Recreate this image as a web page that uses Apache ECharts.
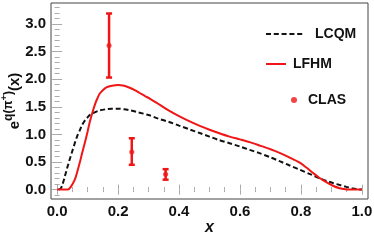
<!DOCTYPE html>
<html><head><meta charset="utf-8">
<script src="https://cdn.jsdelivr.net/npm/echarts@6/dist/echarts.min.js"></script>
<style>html,body{margin:0;padding:0;background:#fff}#c{width:374px;height:245px}</style>
</head><body><div id="c"></div>
<script>
const lfhmX = [0, 0.02, 0.035, 0.045, 0.058, 0.066, 0.074, 0.082, 0.091, 0.1, 0.107, 0.115, 0.124, 0.132, 0.14, 0.15, 0.162, 0.18, 0.2, 0.22, 0.238, 0.255, 0.271, 0.29, 0.304, 0.33, 0.35, 0.37, 0.4, 0.435, 0.47, 0.5, 0.53, 0.566, 0.6, 0.632, 0.664, 0.7, 0.73, 0.76, 0.796, 0.82, 0.839, 0.86, 0.883, 0.905, 0.927, 0.945, 0.96, 1.0];
const lfhmY = [0, 0, 0, 0.05, 0.18, 0.32, 0.48, 0.66, 0.85, 1.05, 1.22, 1.38, 1.54, 1.65, 1.74, 1.80, 1.85, 1.88, 1.895, 1.88, 1.845, 1.80, 1.75, 1.69, 1.65, 1.56, 1.49, 1.42, 1.33, 1.235, 1.15, 1.085, 1.025, 0.96, 0.91, 0.86, 0.80, 0.73, 0.665, 0.59, 0.49, 0.39, 0.305, 0.215, 0.135, 0.07, 0.025, 0.005, 0, 0];
const lcqmX = [0.005, 0.012, 0.018, 0.025, 0.033, 0.041, 0.05, 0.058, 0.066, 0.074, 0.082, 0.091, 0.1, 0.107, 0.12, 0.14, 0.16, 0.18, 0.2, 0.22, 0.24, 0.266, 0.3, 0.33, 0.37, 0.4, 0.435, 0.47, 0.5, 0.53, 0.566, 0.6, 0.632, 0.664, 0.7, 0.73, 0.76, 0.796, 0.83, 0.861, 0.885, 0.905, 0.93, 0.949, 0.97, 0.99, 1.0];
const lcqmY = [0, 0.02, 0.1, 0.23, 0.39, 0.54, 0.70, 0.84, 0.97, 1.07, 1.17, 1.25, 1.31, 1.35, 1.39, 1.435, 1.455, 1.465, 1.465, 1.455, 1.435, 1.40, 1.35, 1.29, 1.22, 1.16, 1.09, 1.02, 0.96, 0.90, 0.84, 0.78, 0.72, 0.66, 0.585, 0.515, 0.445, 0.36, 0.28, 0.205, 0.155, 0.12, 0.08, 0.05, 0.02, 0.004, 0];
const clasX = [0.1705, 0.245, 0.356];
const clasY = [2.61, 0.68, 0.28];
const clasLo = [2.03, 0.45, 0.18];
const clasHi = [3.19, 0.93, 0.37];
const xTicks = [0, 0.2, 0.4, 0.6, 0.8, 1.0];
const xMinor = [0.05, 0.1, 0.15, 0.25, 0.3, 0.35, 0.45, 0.5, 0.55, 0.65, 0.7, 0.75, 0.85, 0.9, 0.95];
const yTicks = [0, 0.5, 1.0, 1.5, 2.0, 2.5, 3.0];
const yMinor = [-0.1, 0.1, 0.2, 0.3, 0.4, 0.6, 0.7, 0.8, 0.9, 1.1, 1.2, 1.3, 1.4, 1.6, 1.7, 1.8, 1.9, 2.1, 2.2, 2.3, 2.4, 2.6, 2.7, 2.8, 2.9, 3.1, 3.2, 3.3];

const RED = 'rgb(240,22,22)';
const FONT = 'Liberation Sans, Arial, sans-serif';
const X0 = -0.02, X1 = 1.02, Y0 = -0.17, Y1 = 3.38;

function xAx(pos, ticks, len, labels, extra) {
  return Object.assign({
    type: 'value', position: pos, min: X0, max: X1, nameMoveOverlap: false,
    axisLine: {show: false}, splitLine: {show: false},
    axisTick: {show: true, inside: true, length: len, customValues: ticks, lineStyle: {color: '#aaa', width: 1}},
    axisLabel: labels ? {customValues: ticks, formatter: v => v.toFixed(1), fontSize: 15, fontWeight: 'bold', color: '#111', margin: 5, fontFamily: FONT} : {show: false}
  }, extra || {});
}
function yAx(pos, ticks, len, labels, extra) {
  return Object.assign({
    type: 'value', position: pos, min: Y0, max: Y1, nameMoveOverlap: false,
    axisLine: {show: false}, splitLine: {show: false},
    axisTick: {show: true, inside: true, length: len, customValues: ticks, lineStyle: {color: '#aaa', width: 1}},
    axisLabel: labels ? {customValues: ticks, formatter: v => v.toFixed(1), fontSize: 15, fontWeight: 'bold', color: '#111', margin: 5, fontFamily: FONT} : {show: false}
  }, extra || {});
}
const legText = pad => ({fontSize: 14, fontWeight: 'bold', color: '#111', fontFamily: FONT, padding: [0, 0, 0, pad]});

const chart = echarts.init(document.getElementById('c'), null, {renderer: 'canvas'});
chart.setOption({
  animation: false,
  grid: {left: 51, right: 6, top: 3, bottom: 46, show: true, borderColor: '#444', borderWidth: 1,
    backgroundColor: 'transparent', containLabel: false, outerBoundsMode: 'none'},
  xAxis: [
    xAx('bottom', xTicks, 5, true, {name: 'x', nameLocation: 'middle', nameGap: 21,
      nameTextStyle: {fontStyle: 'italic', fontWeight: 'bold', fontSize: 16, color: '#111', fontFamily: FONT}}),
    xAx('bottom', xMinor, 2.5, false),
    xAx('top', xTicks, 5, false),
    xAx('top', xMinor, 2.5, false)
  ],
  yAxis: [
    yAx('left', yTicks, 5, true, {
      name: '{e|e}{s|q(π}{ss|+}{s|)}{e|(x)}', nameLocation: 'middle', nameRotate: 90, nameGap: 29,
      nameTextStyle: {fontFamily: FONT, color: '#111', rich: {
        e: {fontSize: 15, fontWeight: 'bold', fontFamily: FONT, color: '#111', padding: [7, 0, 0, 0], verticalAlign: 'top'},
        s: {fontSize: 12, fontWeight: 'bold', fontFamily: FONT, color: '#111', padding: [3, 0, 0, 0], verticalAlign: 'top'},
        ss: {fontSize: 9, fontWeight: 'bold', fontFamily: FONT, color: '#111', verticalAlign: 'top'}
      }}}),
    yAx('left', yMinor, 2.5, false),
    yAx('right', yTicks, 5, false),
    yAx('right', yMinor, 2.5, false)
  ],
  legend: [
    {data: ['LCQM'], left: 260, top: 22, itemWidth: 37, itemHeight: 14, selectedMode: false,
      itemStyle: {opacity: 0}, textStyle: legText(7)},
    {data: ['LFHM'], left: 260, top: 52, itemWidth: 20, itemHeight: 14, selectedMode: false,
      itemStyle: {opacity: 0}, textStyle: legText(2)},
    {data: ['CLAS'], left: 286, top: 88, itemWidth: 6, itemHeight: 6, selectedMode: false, icon: 'circle',
      textStyle: legText(6)}
  ],
  series: [
    {name: 'LCQM', type: 'line', xAxisIndex: 0, yAxisIndex: 0, showSymbol: false, symbol: 'none', smooth: 0.3,
      data: lcqmX.map((x, i) => [x, lcqmY[i]]),
      lineStyle: {color: '#111', width: 2, type: [5, 2.8]}, itemStyle: {color: '#111'}},
    {name: 'LFHM', type: 'line', xAxisIndex: 0, yAxisIndex: 0, showSymbol: false, symbol: 'none', smooth: 0.3,
      data: lfhmX.map((x, i) => [x, lfhmY[i]]),
      lineStyle: {color: RED, width: 2}, itemStyle: {color: RED}},
    {type: 'custom', xAxisIndex: 0, yAxisIndex: 0,
      data: clasX.map((x, i) => [x, clasLo[i], clasHi[i]]),
      encode: {x: 0, y: [1, 2]},
      renderItem: function (params, api) {
        const x = api.value(0);
        const p1 = api.coord([x, api.value(1)]);
        const p2 = api.coord([x, api.value(2)]);
        const w = 3;
        const st = {stroke: RED, lineWidth: 2.5};
        return {type: 'group', children: [
          {type: 'line', shape: {x1: p1[0], y1: p1[1], x2: p2[0], y2: p2[1]}, style: st},
          {type: 'line', shape: {x1: p1[0] - w, y1: p1[1], x2: p1[0] + w, y2: p1[1]}, style: st},
          {type: 'line', shape: {x1: p2[0] - w, y1: p2[1], x2: p2[0] + w, y2: p2[1]}, style: st}
        ]};
      }},
    {name: 'CLAS', type: 'scatter', xAxisIndex: 0, yAxisIndex: 0, symbolSize: 5,
      data: clasX.map((x, i) => [x, clasY[i]]), itemStyle: {color: RED}}
  ]
});
</script></body></html>
